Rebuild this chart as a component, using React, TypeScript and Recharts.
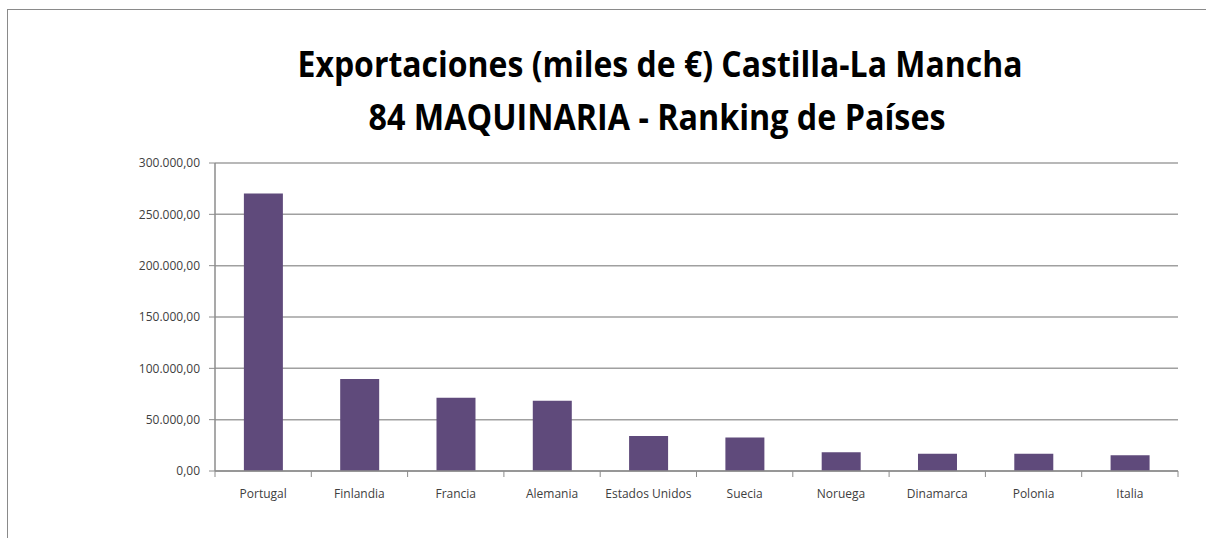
import React from 'react';
import { BarChart, Bar, XAxis, YAxis, CartesianGrid } from 'recharts';

const COUNTRIES = [
  'Portugal',
  'Finlandia',
  'Francia',
  'Alemania',
  'Estados Unidos',
  'Suecia',
  'Noruega',
  'Dinamarca',
  'Polonia',
  'Italia',
];
const EXPORTS = [270300, 89700, 71300, 68400, 34100, 32700, 18200, 16900, 16800, 15300];
const Y_TICKS = [0, 50000, 100000, 150000, 200000, 250000, 300000];

const WIDTH = 1206;
const HEIGHT = 538;
const PLOT_LEFT = 215;
const PLOT_RIGHT = 28;
const HALF_BAND = (WIDTH - PLOT_LEFT - PLOT_RIGHT) / COUNTRIES.length / 2;

const AXIS_GRAY = '#8c8c8c';
const LABEL_COLOR = '#404040';
const FONT = '"Open Sans", "Liberation Sans", sans-serif';

const data = COUNTRIES.map((country, i) => ({ country, value: EXPORTS[i] }));

// 300000 -> "300.000,00"
const fmtEs = (v: number) => {
  const int = Math.round(v)
    .toString()
    .replace(/\B(?=(\d{3})+(?!\d))/g, '.');
  return `${int},00`;
};

function CountryTick(props: any) {
  const { x, y, payload, index } = props;
  const last = index === COUNTRIES.length - 1;
  return (
    <g>
      <line x1={x - HALF_BAND} x2={x - HALF_BAND} y1={y} y2={y + 6} stroke={AXIS_GRAY} />
      {last && (
        <line x1={x + HALF_BAND} x2={x + HALF_BAND} y1={y} y2={y + 6} stroke={AXIS_GRAY} />
      )}
      <text
        x={x}
        y={y + 27}
        textAnchor="middle"
        fill={LABEL_COLOR}
        fontSize={12}
        fontFamily={FONT}
      >
        {payload.value}
      </text>
    </g>
  );
}

export default function App() {
  return (
    <div
      style={{
        position: 'fixed',
        left: 0,
        top: 0,
        width: WIDTH,
        height: HEIGHT,
        overflow: 'hidden',
        background: '#fff',
      }}
    >
      {/* frame: top and left edges of the chart area border */}
      <div
        style={{
          position: 'absolute',
          left: 7,
          top: 9,
          width: WIDTH - 7,
          height: 1,
          background: '#8a8a8a',
        }}
      />
      <div
        style={{
          position: 'absolute',
          left: 7,
          top: 9,
          width: 1,
          height: HEIGHT - 9,
          background: '#8a8a8a',
        }}
      />
      <div style={{ position: 'absolute', left: 0, top: 0 }}>
        <BarChart
          width={WIDTH}
          height={HEIGHT}
          data={data}
          margin={{ top: 163, right: PLOT_RIGHT, bottom: 37, left: 0 }}
          barCategoryGap="30%"
        >
          <CartesianGrid vertical={false} stroke="#a0a0a0" strokeWidth={1.5} />
          <XAxis
            dataKey="country"
            interval={0}
            height={30}
            tickSize={0}
            tickMargin={0}
            tick={<CountryTick />}
            axisLine={{ stroke: AXIS_GRAY, strokeWidth: 1.5 }}
            tickLine={false}
          />
          <YAxis
            width={PLOT_LEFT}
            domain={[0, 300000]}
            ticks={Y_TICKS}
            tickFormatter={fmtEs}
            tickSize={6}
            tickMargin={9}
            axisLine={{ stroke: AXIS_GRAY, strokeWidth: 1.5 }}
            tickLine={{ stroke: AXIS_GRAY }}
            tick={{ fill: LABEL_COLOR, fontSize: 12, fontFamily: FONT }}
          />
          <Bar dataKey="value" fill="#5f4a7b" isAnimationActive={false} />
        </BarChart>
      </div>
      <svg
        width={WIDTH}
        height={150}
        style={{ position: 'absolute', left: 0, top: 0, pointerEvents: 'none' }}
      >
        <text
          x={660}
          y={77}
          textAnchor="middle"
          fontSize={36}
          fontWeight="bold"
          fontFamily={FONT}
          fill="#000"
          textLength={725}
          lengthAdjust="spacingAndGlyphs"
        >
          Exportaciones (miles de €) Castilla-La Mancha
        </text>
        <text
          x={657}
          y={130}
          textAnchor="middle"
          fontSize={36}
          fontWeight="bold"
          fontFamily={FONT}
          fill="#000"
          textLength={577}
          lengthAdjust="spacingAndGlyphs"
        >
          84 MAQUINARIA - Ranking de Países
        </text>
      </svg>
    </div>
  );
}
